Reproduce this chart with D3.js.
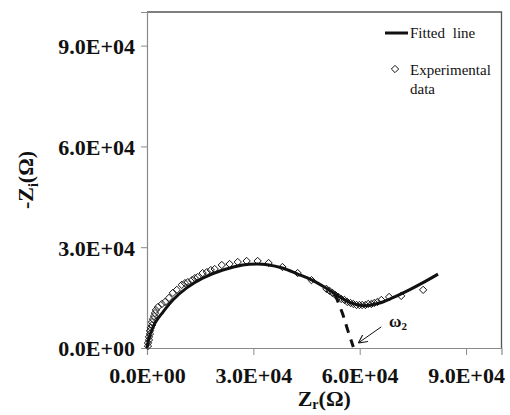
<!DOCTYPE html>
<html>
<head>
<meta charset="utf-8">
<script src="https://cdn.jsdelivr.net/npm/d3@7"></script>
<style>
  html, body { margin: 0; padding: 0; background: #fff; }
  svg { display: block; }
  text { font-family: "Liberation Serif", "Times New Roman", serif; fill: #111; }
</style>
</head>
<body>
<svg id="chart" width="510" height="415"></svg>
<script>
// Nyquist plot: real vs. negative imaginary impedance (ohms)
const xTicks = [0, 30000, 60000, 90000];
const yTicks = [0, 30000, 60000, 90000];
const xTickLabels = ["0.0E+00", "3.0E+04", "6.0E+04", "9.0E+04"];
const yTickLabels = ["0.0E+00", "3.0E+04", "6.0E+04", "9.0E+04"];

// Experimental data points
const expZr = [280, 280, 560, 560, 840, 840, 1100, 1400, 1400, 1700, 2000, 2250, 2500, 3100,
  4200, 5100, 6200, 7300, 8400, 9800, 10700, 11500, 12700, 13500, 14300, 15700, 16900, 18000,
  19100, 21100, 23300, 25600, 28100, 31200, 34300, 38200, 42500, 46400, 50600, 51500, 52300,
  53100, 54000, 54800, 55700, 56500, 57400, 58200, 59100, 59900, 60700, 61600, 62400, 63300,
  64100, 65000, 66100, 68300, 71700, 77900];
const expZi = [600, 1500, 2400, 3300, 4200, 5100, 6000, 6800, 7700, 8600, 9500, 10400, 11300, 12200,
  13100, 13700, 14900, 16400, 17300, 18800, 19300, 19600, 20200, 20800, 21100, 22300, 22600, 23200,
  23500, 24700, 25000, 25600, 25900, 25900, 25300, 24100, 22300, 20200, 17600, 17000, 16400,
  15800, 15200, 14600, 14300, 13700, 13400, 13100, 12800, 12800, 12800, 12800, 13100, 13100,
  13400, 13700, 14300, 15200, 15500, 17300];

// Fitted equivalent-circuit curve
const fitZr = [0, 840, 2250, 4500, 7300, 11200, 15700, 21400, 27000, 31000, 34000, 38200, 42500,
  46400, 50600, 54300, 57900, 61500, 65300, 69200, 74000, 77600, 82100];
const fitZi = [0, 3900, 7400, 10700, 14300, 17900, 20800, 23200, 24700, 25000, 24800, 23800, 22000,
  20300, 17800, 15200, 13300, 12600, 13300, 14900, 17300, 19300, 22000];

// Extrapolation of the first arc down to the real axis
const extZr = [53000, 55100, 56600, 58200];
const extZi = [16000, 10400, 5400, 300];

const svg = d3.select("#chart");
const x = d3.scaleLinear().domain([0, 100000]).range([147, 501.5]);
const y = d3.scaleLinear().domain([0, 100000]).range([348, 12]);

// Frame (top and right)
svg.append("path")
  .attr("d", `M${x(0)},${y(100000)}H${x(100000)}V${y(0)}`)
  .attr("fill", "none").attr("stroke", "#555").attr("stroke-width", 1.3);

// Axes
const fontTick = "bold 22px 'Liberation Serif', 'Times New Roman', serif";
const xAxis = d3.axisBottom(x).tickValues(xTicks).tickSize(7).tickPadding(7)
  .tickFormat((d, i) => xTickLabels[i]);
const yAxis = d3.axisLeft(y).tickValues(yTicks).tickSize(6).tickPadding(6)
  .tickFormat((d, i) => yTickLabels[i]);

const gx = svg.append("g").attr("transform", `translate(0,${y(0)})`).call(xAxis);
const gy = svg.append("g").attr("transform", `translate(${x(0)},0)`).call(yAxis);
[gx, gy].forEach(g => {
  g.select(".domain").attr("stroke", "#8a8a8a").attr("stroke-width", 1.2);
  g.selectAll(".tick line").attr("stroke", "#8a8a8a").attr("stroke-width", 1);
  g.selectAll(".tick text").style("font", fontTick).attr("fill", "#111");
});
gx.selectAll(".tick text").attr("dy", "0.95em");
gy.selectAll(".tick text").attr("dy", "0.36em");

// Fitted line
const fitData = fitZr.map((v, i) => [v, fitZi[i]]);
const line = d3.line().x(d => x(d[0])).y(d => y(d[1])).curve(d3.curveCatmullRom.alpha(0.5));
svg.append("path").datum(fitData).attr("d", line)
  .attr("fill", "none").attr("stroke", "#111").attr("stroke-width", 3)
  .attr("stroke-linejoin", "round");

// Dashed extrapolation
const extData = extZr.map((v, i) => [v, extZi[i]]);
svg.append("path").datum(extData).attr("d", line)
  .attr("fill", "none").attr("stroke", "#111").attr("stroke-width", 3)
  .attr("stroke-dasharray", "9,7");

// Experimental markers
const diamond = d3.symbol().type(d3.symbolDiamond2).size(34);
const expData = expZr.map((v, i) => [v, expZi[i]]);
svg.append("g").selectAll("path").data(expData).join("path")
  .attr("d", diamond)
  .attr("transform", d => `translate(${x(d[0])},${y(d[1])})`)
  .attr("fill", "none").attr("stroke", "#111").attr("stroke-width", 1);

// Annotation: omega_2 with arrow
const defs = svg.append("defs");
defs.append("marker").attr("id", "arrow").attr("viewBox", "0 0 10 10")
  .attr("refX", 10).attr("refY", 5).attr("markerWidth", 9).attr("markerHeight", 9)
  .attr("orient", "auto").attr("markerUnits", "userSpaceOnUse")
  .append("path").attr("d", "M0,0L10,5L0,10").attr("fill", "none")
  .attr("stroke", "#111").attr("stroke-width", 1.2);

svg.append("line")
  .attr("x1", x(66100)).attr("y1", y(6300))
  .attr("x2", x(59600)).attr("y2", y(1500))
  .attr("stroke", "#111").attr("stroke-width", 1)
  .attr("marker-end", "url(#arrow)");

const om = svg.append("text").attr("x", x(68300)).attr("y", y(6200))
  .style("font-size", "17px").style("font-weight", "bold");
om.append("tspan").text("ω");
om.append("tspan").attr("dy", 3).style("font-size", "11px").text("2");

// Axis titles
const yt = svg.append("text")
  .attr("transform", `translate(33,${(y(0) + y(100000)) / 2}) rotate(-90)`)
  .attr("text-anchor", "middle").style("font-size", "22px").style("font-weight", "bold");
yt.append("tspan").text("-Z");
yt.append("tspan").attr("dy", 5).style("font-size", "14px").text("i");
yt.append("tspan").attr("dy", -5).text("(Ω)");

const xt = svg.append("text")
  .attr("x", (x(0) + x(100000)) / 2).attr("y", 406)
  .attr("text-anchor", "middle").style("font-size", "22px").style("font-weight", "bold");
xt.append("tspan").text("Z");
xt.append("tspan").attr("dy", 3).style("font-size", "14px").text("r");
xt.append("tspan").attr("dy", -3).text("(Ω)");

// Legend
const lg = svg.append("g");
lg.append("line").attr("x1", 385).attr("x2", 408).attr("y1", 33).attr("y2", 33)
  .attr("stroke", "#111").attr("stroke-width", 3);
lg.append("text").attr("x", 410).attr("y", 38).style("font-size", "15px")
  .style("word-spacing", "4px").text("Fitted line");
lg.append("path").attr("d", diamond).attr("transform", "translate(395,69)")
  .attr("fill", "none").attr("stroke", "#111").attr("stroke-width", 1);
lg.append("text").attr("x", 410).attr("y", 75).style("font-size", "15px").text("Experimental");
lg.append("text").attr("x", 410).attr("y", 94).style("font-size", "15px").text("data");
</script>
</body>
</html>
